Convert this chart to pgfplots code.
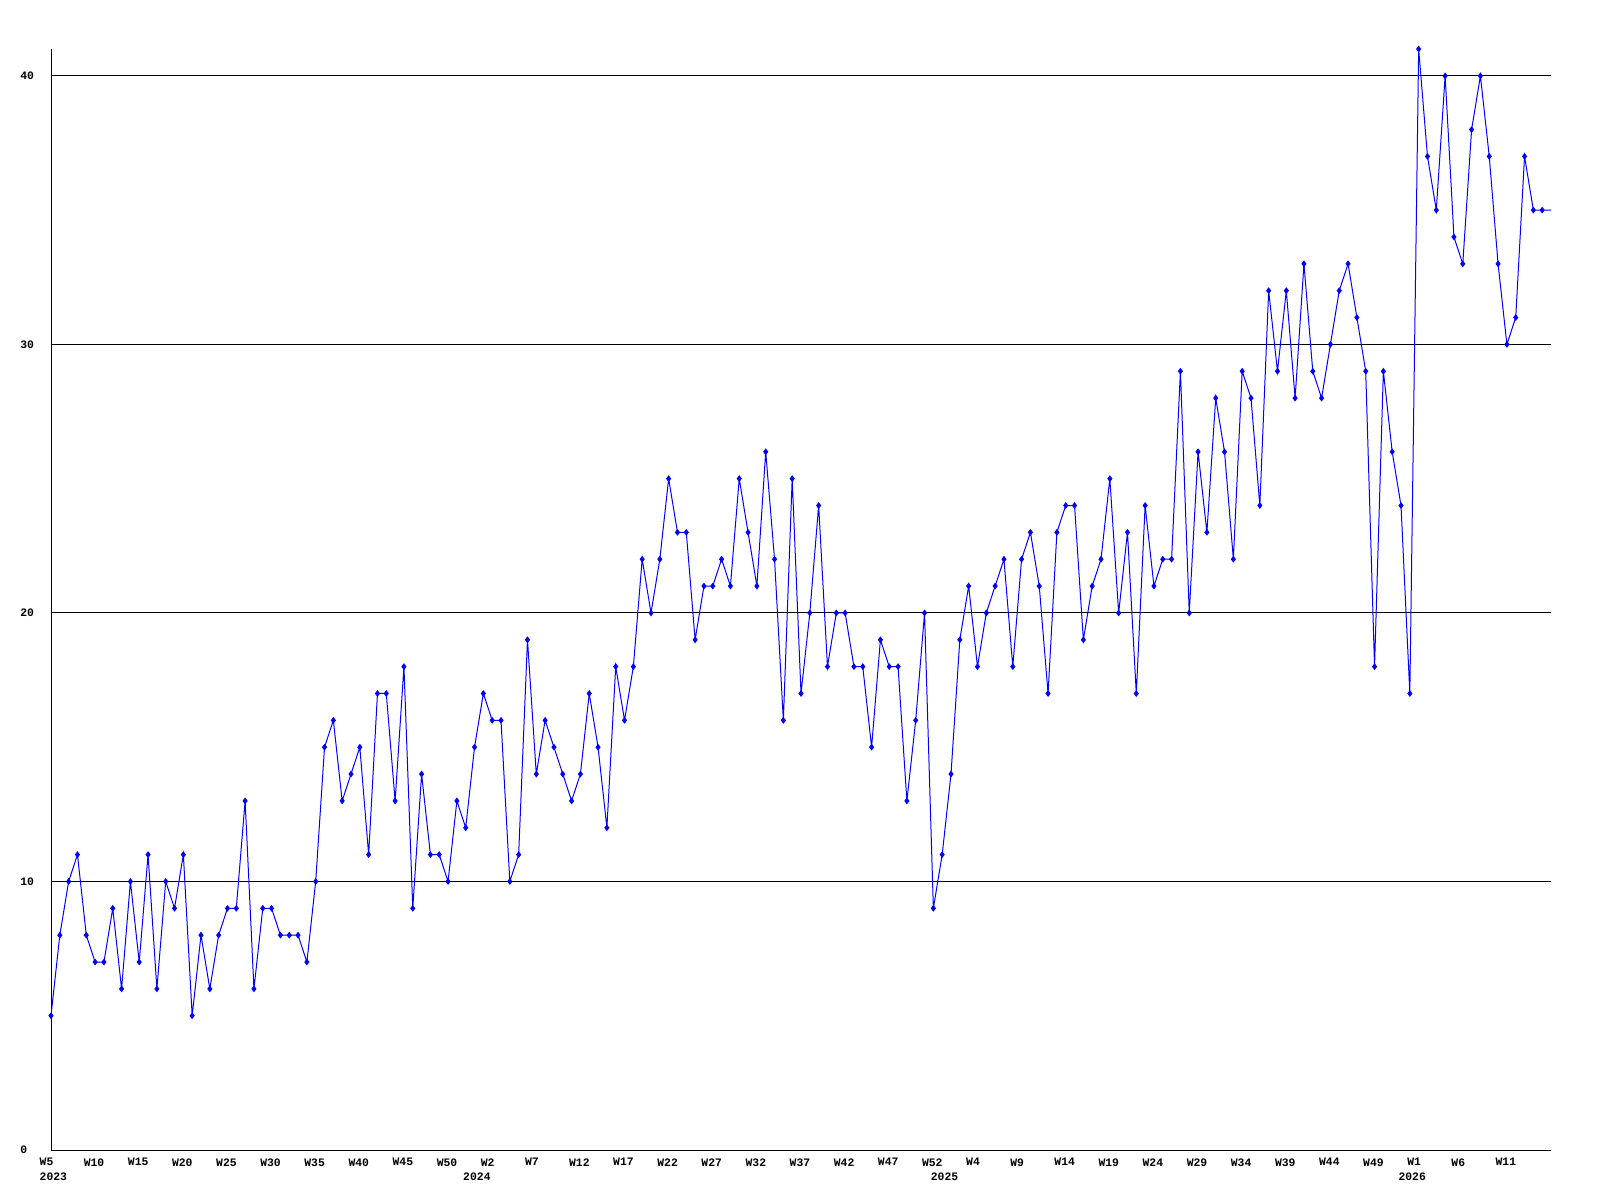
\documentclass[border=0pt]{standalone}
\usepackage{fontspec}
\usepackage{pgfplots}
\pgfplotsset{compat=1.18}
\newfontfamily\lblfont{Liberation Mono}
\newcommand{\lbl}{\lblfont\bfseries\fontsize{5.7}{6}\selectfont}
\begin{document}
\begin{tikzpicture}[x=1pt,y=1pt]
\path[use as bounding box] (0,0) rectangle (800,600);
\begin{axis}[
  at={(25.5pt,25pt)}, anchor=south west,
  scale only axis, width=750pt, height=550.5pt,
  xmin=0, xmax=170, ymin=0, ymax=41,
  axis x line*=bottom, axis y line*=left,
  axis line style={black, line width=0.5pt, -},
  xtick={0,5,...,165},
  xticklabels={W5,W10,W15,W20,W25,W30,W35,W40,W45,W50,W2,W7,W12,W17,W22,W27,W32,W37,W42,W47,W52,W4,W9,W14,W19,W24,W29,W34,W39,W44,W49,W1,W6,W11},
  ytick={0,10,20,30,40}, yticklabels={0,10,20,30,40},
  major tick length=0pt,
  ymajorgrids, grid style={black, line width=0.5pt},
  tick label style={font=\lbl, inner sep=0pt},
  xticklabel style={anchor=north west, xshift=-5.85pt, yshift=-4pt},
  yticklabel style={anchor=west, xshift=-15.5pt},
  clip mode=individual,
]
\addplot[blue, line width=0.5pt, mark=diamond*, mark size=1.3pt, mark options={solid, fill=blue, draw=blue}] coordinates {
(0,5)(1,8)(2,10)(3,11)(4,8)(5,7)(6,7)(7,9)(8,6)(9,10)(10,7)(11,11)(12,6)(13,10)(14,9)(15,11)(16,5)(17,8)(18,6)(19,8)(20,9)(21,9)(22,13)(23,6)(24,9)(25,9)(26,8)(27,8)(28,8)(29,7)(30,10)
(31,15)(32,16)(33,13)(34,14)(35,15)(36,11)(37,17)(38,17)(39,13)(40,18)(41,9)(42,14)(43,11)(44,11)(45,10)(46,13)(47,12)(48,15)(49,17)(50,16)(51,16)(52,10)(53,11)(54,19)(55,14)(56,16)(57,15)(58,14)
(59,13)(60,14)(61,17)(62,15)(63,12)(64,18)(65,16)(66,18)(67,22)(68,20)(69,22)(70,25)(71,23)(72,23)(73,19)(74,21)(75,21)(76,22)(77,21)(78,25)(79,23)(80,21)(81,26)(82,22)(83,16)(84,25)(85,17)
(86,20)(87,24)(88,18)(89,20)(90,20)(91,18)(92,18)(93,15)(94,19)(95,18)(96,18)(97,13)(98,16)(99,20)(100,9)(101,11)(102,14)(103,19)(104,21)(105,18)(106,20)(107,21)(108,22)(109,18)(110,22)(111,23)(112,21)(113,17)(114,23)
(115,24)(116,24)(117,19)(118,21)(119,22)(120,25)(121,20)(122,23)(123,17)(124,24)(125,21)(126,22)(127,22)(128,29)(129,20)(130,26)(131,23)(132,28)(133,26)(134,22)(135,29)(136,28)(137,24)(138,32)(139,29)(140,32)(141,28)(142,33)(143,29)(144,28)(145,30)(146,32)
(147,33)(148,31)(149,29)(150,18)(151,29)(152,26)(153,24)(154,17)(155,41)(156,37)(157,35)(158,40)(159,34)(160,33)(161,38)(162,40)(163,37)(164,33)(165,30)(166,31)(167,37)(168,35)(169,35)(171,35)
};
\node[anchor=north west, inner sep=0pt, font=\lbl, xshift=-5.85pt, yshift=-11.35pt] at (axis cs:0,0) {2023};
\node[anchor=north west, inner sep=0pt, font=\lbl, xshift=-5.85pt, yshift=-11.35pt] at (axis cs:48,0) {2024};
\node[anchor=north west, inner sep=0pt, font=\lbl, xshift=-5.85pt, yshift=-11.35pt] at (axis cs:101,0) {2025};
\node[anchor=north west, inner sep=0pt, font=\lbl, xshift=-5.85pt, yshift=-11.35pt] at (axis cs:154,0) {2026};
\end{axis}
\end{tikzpicture}
\end{document}
